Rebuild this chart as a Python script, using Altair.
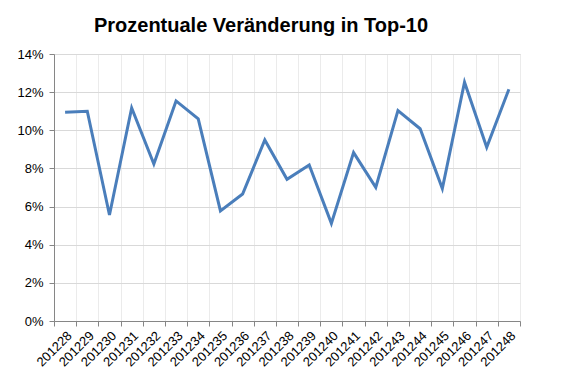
import altair as alt
import pandas as pd

weeks = ["201228", "201229", "201230", "201231", "201232", "201233", "201234",
         "201235", "201236", "201237", "201238", "201239", "201240", "201241",
         "201242", "201243", "201244", "201245", "201246", "201247", "201248"]
pct = [10.95, 11.0, 5.56, 11.17, 8.23, 11.54, 10.6, 5.77, 6.66, 9.49, 7.43,
       8.18, 5.12, 8.83, 7.01, 11.03, 10.08, 6.94, 12.52, 9.11, 12.15]

df = pd.DataFrame({"week": weeks, "value": [v / 100 for v in pct]})

chart = alt.Chart(df).mark_line(color="#4A7EBB", strokeWidth=3).encode(
    x=alt.X("week:N", sort=weeks, title=None,
            scale=alt.Scale(paddingInner=0, paddingOuter=0),
            axis=alt.Axis(labelAngle=-45, tickBand="extent", grid=True,
                          gridColor="#EBEBEB", domainColor="#868686",
                          tickColor="#868686", tickSize=5, labelFont="Arial",
                          labelFontSize=13, labelColor="#000000", labelPadding=3)),
    y=alt.Y("value:Q", title=None,
            scale=alt.Scale(domain=[0, 0.14], nice=False),
            axis=alt.Axis(format=".0%", values=[0, 0.02, 0.04, 0.06, 0.08, 0.10, 0.12, 0.14],
                          gridColor="#D9D9D9", domainColor="#868686",
                          tickColor="#868686", tickSize=5, labelFont="Arial",
                          labelFontSize=13, labelColor="#000000", labelPadding=6)),
).properties(
    width=466, height=267,
    title=alt.TitleParams("Prozentuale Veränderung in Top-10", font="Arial",
                          fontSize=20, fontWeight="bold", color="#000000",
                          anchor="middle", dx=-26, offset=12),
    autosize=alt.AutoSizeParams(type="none"),
    padding={"left": 46, "top": 46, "right": 30, "bottom": 50},
).configure_view(stroke="#E0E0E0")

chart.save("out.html", embed_options={"renderer": "svg", "actions": False})
